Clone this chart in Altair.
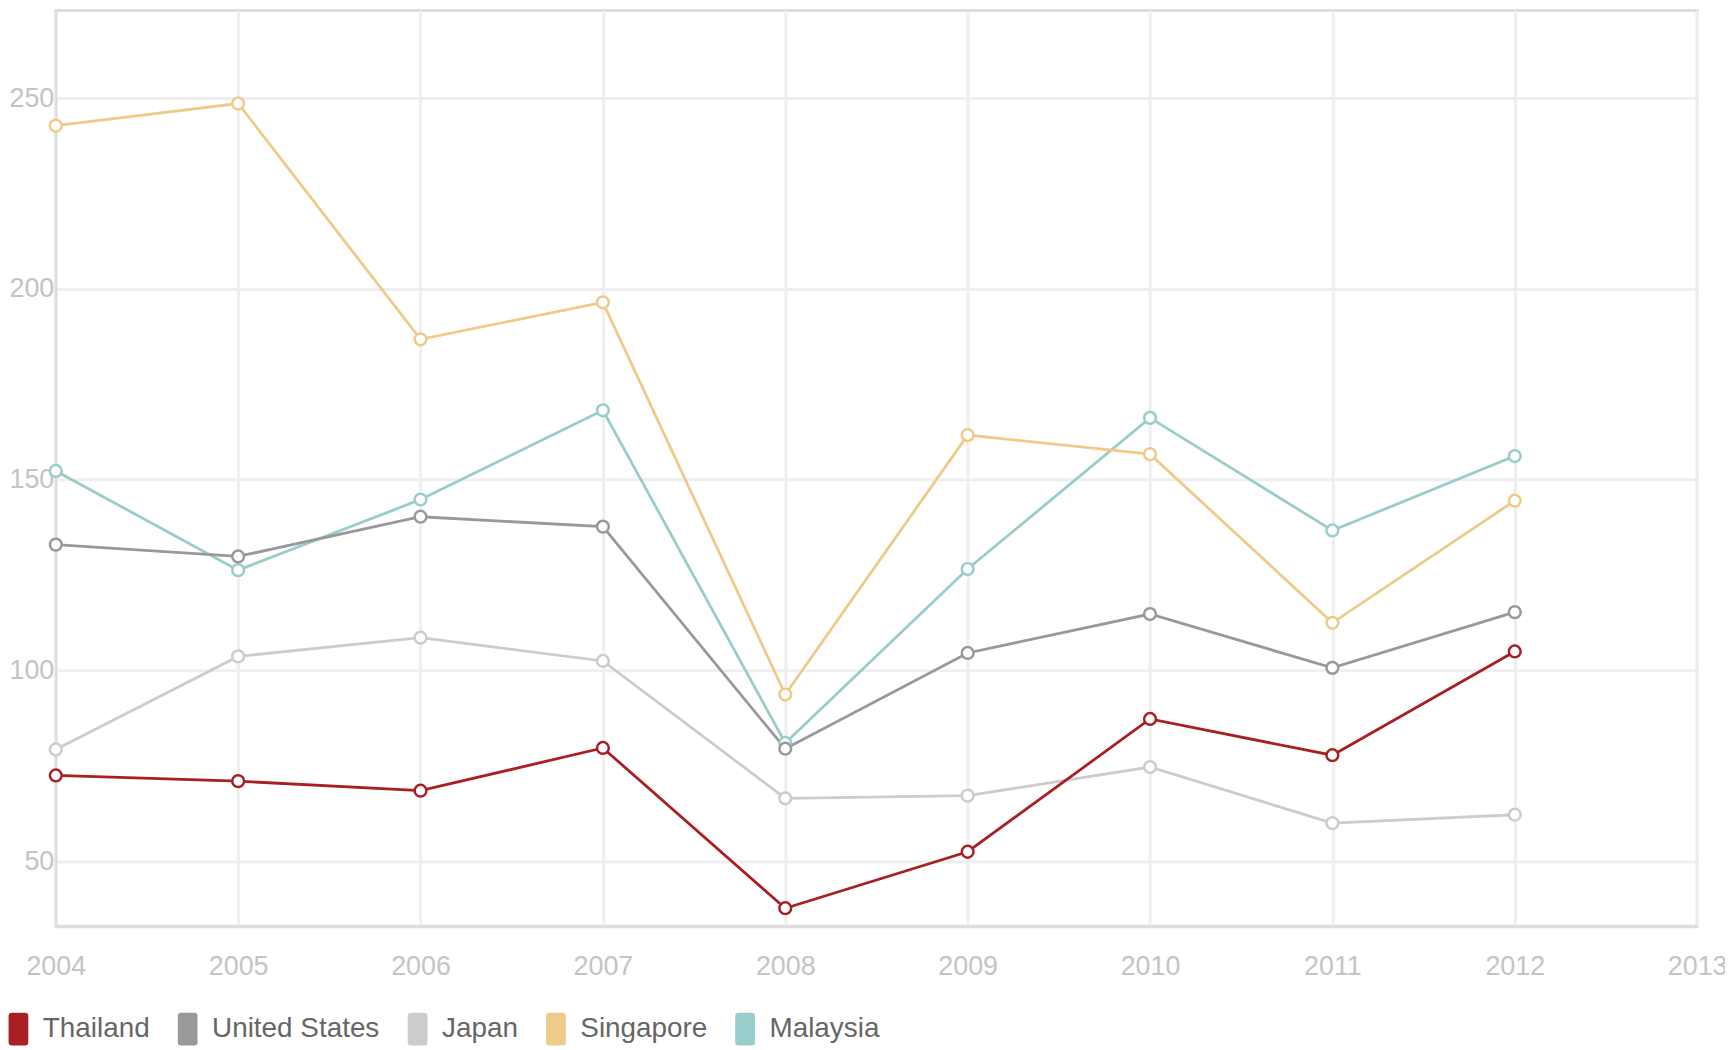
import pandas as pd
import altair as alt

# Years on the x axis
years = [2004, 2005, 2006, 2007, 2008, 2009, 2010, 2011, 2012]

# Values, one list per country
thailand = [72.5, 71.0, 68.5, 79.7, 37.7, 52.5, 87.3, 77.8, 105.0]
united_states = [133.0, 129.9, 140.3, 137.7, 79.5, 104.6, 114.8, 100.7, 115.3]
japan = [79.3, 103.7, 108.6, 102.5, 66.5, 67.2, 74.7, 60.0, 62.2]
singapore = [242.8, 248.6, 186.8, 196.5, 93.7, 161.7, 156.7, 112.5, 144.5]
malaysia = [152.3, 126.3, 144.8, 168.2, 81.0, 126.6, 166.2, 136.7, 156.2]

countries = ['Thailand', 'United States', 'Japan', 'Singapore', 'Malaysia']
colors = ['#a81f24', '#999999', '#cccccc', '#f0ca88', '#99cdcc']

x_ticks = [2004, 2005, 2006, 2007, 2008, 2009, 2010, 2011, 2012, 2013]
y_ticks = [50, 100, 150, 200, 250]

# Build a long table; Malaysia first so Thailand is drawn on top
series = {
    'Malaysia': malaysia,
    'Singapore': singapore,
    'Japan': japan,
    'United States': united_states,
    'Thailand': thailand,
}
rows = []
for name, vals in series.items():
    for yr, v in zip(years, vals):
        rows.append({'Year': yr, 'Country': name, 'Value': v})
df = pd.DataFrame(rows)

font = 'Liberation Sans, Arial, sans-serif'

x = alt.X('Year:Q',
          scale=alt.Scale(domain=[2004, 2013], nice=False, zero=False),
          axis=alt.Axis(title=None, values=x_ticks, format='d',
                        labelFlush=False, labelPadding=28, ticks=False,
                        domainColor='#dddddd', domainWidth=3))
y = alt.Y('Value:Q',
          scale=alt.Scale(domain=[33, 273], nice=False, zero=False),
          axis=alt.Axis(title=None, values=y_ticks, labelPadding=2,
                        ticks=False, domainColor='#dddddd', domainWidth=2))
# stroke scale lists the countries in reverse so Vega-Lite does not merge
# its (hidden) legend with the fill legend below
stroke = alt.Stroke('Country:N',
                    scale=alt.Scale(domain=countries[::-1], range=colors[::-1]),
                    legend=None)

base = alt.Chart(df)

lines = base.mark_line(strokeWidth=2.8).encode(
    x=x, y=y, stroke=stroke, detail='Country:N'
)

points = base.mark_point(filled=True, size=140, strokeWidth=2.5, opacity=1).encode(
    x=x, y=y, stroke=stroke, fill=alt.value('white')
)

# rounded tall swatch for the legend
swatch = 'M-0.6,-0.8Q-0.6,-1,-0.4,-1H0.4Q0.6,-1,0.6,-0.8V0.8Q0.6,1,0.4,1H-0.4Q-0.6,1,-0.6,0.8Z'

# Invisible squares, only there to give the legend filled swatches
legend_layer = base.mark_square(opacity=0, size=10).encode(
    x=x, y=y,
    fill=alt.Fill('Country:N',
                  scale=alt.Scale(domain=countries, range=colors),
                  legend=alt.Legend(title=None, orient='none', direction='horizontal',
                                    columns=5, legendX=-54, legendY=1007,
                                    symbolType=swatch,
                                    symbolSize=1089, symbolStrokeWidth=0,
                                    symbolOpacity=1,
                                    labelFontSize=28, labelFont=font,
                                    labelColor='#666666', labelOffset=8,
                                    labelLimit=500,
                                    columnPadding=21, padding=0))
)

chart = alt.layer(lines, points, legend_layer).properties(
    width=1649,
    height=920,
    autosize=alt.AutoSizeParams(type='none'),
    padding={'left': 48, 'top': 0, 'right': 28, 'bottom': 122}
).configure_view(
    stroke='#dddddd',
    strokeWidth=3
).configure_axis(
    grid=True,
    gridColor='#efefef',
    gridWidth=3,
    labelFont=font,
    labelFontSize=27,
    labelColor='#c4c4c4'
)

chart.save("out.html", embed_options={"renderer": "svg", "actions": False})
